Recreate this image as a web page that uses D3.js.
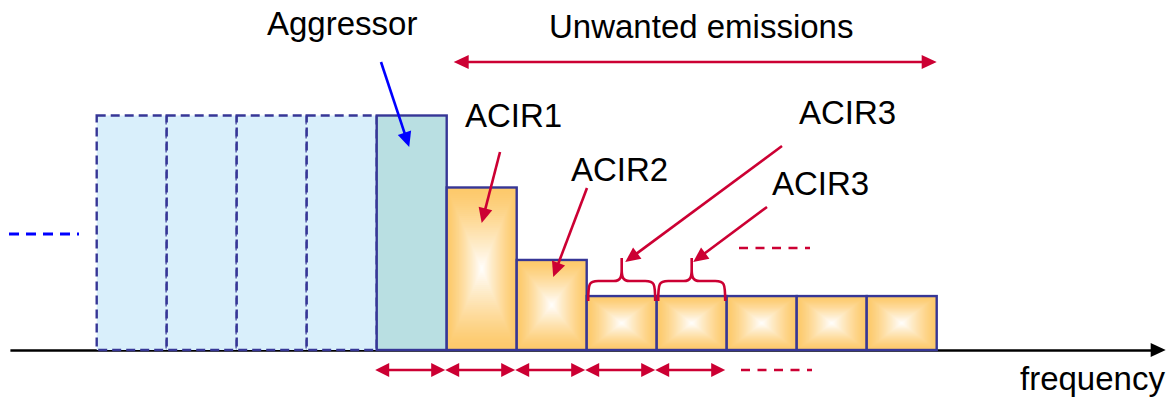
<!DOCTYPE html>
<html>
<head>
<meta charset="utf-8">
<script src="https://cdn.jsdelivr.net/npm/d3@7"></script>
<style>
  html, body { margin: 0; padding: 0; background: #fff; }
  svg { display: block; }
  text { font-family: "Liberation Sans", Arial, sans-serif; fill: #000; }
</style>
</head>
<body>
<svg id="chart" width="1168" height="398"></svg>
<script>
// ---------------- data ----------------
// channel index (0 = aggressor channel)
const channels = [-4, -3, -2, -1, 0, 1, 2, 3, 4, 5, 6, 7];
// relative power level of each channel
const levels   = [100, 100, 100, 100, 100, 69.3, 38.4, 23, 23, 23, 23, 23];
// role of each channel
const roles    = ["other", "other", "other", "other", "aggressor",
                  "unwanted", "unwanted", "unwanted", "unwanted", "unwanted", "unwanted", "unwanted"];
// channel widths marked below the axis
const markedChannels = [0, 1, 2, 3, 4];
// ACIR3 braces over these channels
const bracedChannels = [3, 4];
// labels
const axisLabel = "frequency";
const titleLabel = "Unwanted emissions";
const aggressorLabel = "Aggressor";
const acirLabels = ["ACIR1", "ACIR2", "ACIR3", "ACIR3"];

// ---------------- layout ----------------
const svg = d3.select("#chart");
const x = d3.scaleLinear().domain([-4, 9]).range([96.7, 1006.7]);
const y = d3.scaleLinear().domain([0, 100]).range([350, 115.5]);
const xAxisScale = d3.scaleLinear().domain([-5.24, 11.1]).range([x(-5.24), x(11.1)]);

const RED = "#cc0033", NAVY = "#363696", BLUE = "#0000ff";
const ORANGE = "#fdc96a";
const FS = 33;

function head(g, tip, from, len, half, color) {
  const dx = tip[0] - from[0], dy = tip[1] - from[1];
  const L = Math.hypot(dx, dy), ux = dx / L, uy = dy / L;
  const bx = tip[0] - ux * len, by = tip[1] - uy * len;
  g.append("path")
    .attr("d", `M${tip[0]},${tip[1]}L${bx - uy * half},${by + ux * half}L${bx + uy * half},${by - ux * half}Z`)
    .attr("fill", color);
}
function arrow(g, from, tip, color, w, len, half, both) {
  const dx = tip[0] - from[0], dy = tip[1] - from[1];
  const L = Math.hypot(dx, dy), ux = dx / L, uy = dy / L;
  const a = both ? [from[0] + ux * len * 0.8, from[1] + uy * len * 0.8] : from;
  const b = [tip[0] - ux * len * 0.8, tip[1] - uy * len * 0.8];
  g.append("line").attr("x1", a[0]).attr("y1", a[1]).attr("x2", b[0]).attr("y2", b[1])
    .attr("stroke", color).attr("stroke-width", w);
  head(g, tip, from, len, half, color);
  if (both) head(g, from, tip, len, half, color);
}

// ---------------- axis ----------------
const axisG = svg.append("g").attr("transform", `translate(0,${y(0)})`)
  .call(d3.axisBottom(xAxisScale).tickValues([]).tickSizeOuter(0));
axisG.select(".domain").attr("stroke", "#000").attr("stroke-width", 2.4);
head(svg, [xAxisScale.range()[1] + 12, y(0)], [0, y(0)], 15, 7, "#000");
svg.append("text").attr("x", 1020).attr("y", 390).attr("font-size", FS).text(axisLabel);

// blue dashed continuation at left
svg.append("line").attr("x1", 9).attr("x2", 79).attr("y1", 234).attr("y2", 234)
  .attr("stroke", BLUE).attr("stroke-width", 3).attr("stroke-dasharray", "10,7");

// ---------------- bars ----------------
const data = channels.map((c, i) => ({ c, v: levels[i], role: roles[i] }));
const barsG = svg.append("g");

barsG.selectAll("rect.other").data(data.filter(d => d.role === "other")).join("rect")
  .attr("class", "other")
  .attr("x", d => x(d.c)).attr("width", d => x(d.c + 1) - x(d.c))
  .attr("y", d => y(d.v)).attr("height", d => y(0) - y(d.v))
  .attr("fill", "#d9effb").attr("stroke", NAVY).attr("stroke-width", 2.4)
  .attr("stroke-dasharray", "9,5");

barsG.selectAll("rect.agg").data(data.filter(d => d.role === "aggressor")).join("rect")
  .attr("class", "agg")
  .attr("x", d => x(d.c)).attr("width", d => x(d.c + 1) - x(d.c))
  .attr("y", d => y(d.v)).attr("height", d => y(0) - y(d.v))
  .attr("fill", "#b9dfe2").attr("stroke", NAVY).attr("stroke-width", 2.4);

const N = 40;
const interp = d3.interpolateRgb(ORANGE, "#ffffff");
data.filter(d => d.role === "unwanted").forEach(d => {
  const x0 = x(d.c), w = x(d.c + 1) - x(d.c), y0 = y(d.v), h = y(0) - y(d.v);
  const g = barsG.append("g");
  g.selectAll("rect").data(d3.range(N)).join("rect")
    .attr("x", k => x0 + (k / N) * w / 2)
    .attr("y", k => y0 + (k / N) * h / 2)
    .attr("width", k => w * (1 - k / N))
    .attr("height", k => h * (1 - k / N))
    .attr("fill", k => interp(Math.pow(k / N, 1.25)));
  g.append("rect").attr("x", x0).attr("y", y0).attr("width", w).attr("height", h)
    .attr("fill", "none").attr("stroke", NAVY).attr("stroke-width", 2.4);
});

// ---------------- annotations ----------------
const ann = svg.append("g");
ann.append("text").attr("x", 267).attr("y", 35).attr("font-size", FS).text(aggressorLabel);
arrow(ann, [381, 62], [x(0.5) - 2.5, 147], BLUE, 2.6, 15, 7, false);

ann.append("text").attr("x", 549).attr("y", 38).attr("font-size", FS).text(titleLabel);
arrow(ann, [x(1) + 7, 62], [x(8), 62], RED, 2.6, 15, 7, true);

const acirPos = [[465, 127], [571, 181], [799, 124], [772, 195]];
acirLabels.forEach((t, i) => ann.append("text").attr("x", acirPos[i][0]).attr("y", acirPos[i][1])
  .attr("font-size", FS).text(t));
arrow(ann, [500, 152], [x(1.5), 223], RED, 2.6, 15, 7, false);
arrow(ann, [587, 188], [x(2.5) + 1.5, 277], RED, 2.6, 15, 7, false);
arrow(ann, [782, 146], [x(3.5) + 3.5, 262], RED, 2.6, 15, 7, false);
arrow(ann, [767, 207], [x(4.5) + 1.5, 262], RED, 2.6, 15, 7, false);

bracedChannels.forEach(c => {
  const x0 = x(c) + 1.5, x1 = x(c + 1) - 1.5, xm = (x0 + x1) / 2;
  const yb = 301, yh = 281, yt = 258;
  const p = `M${x0},${yb}C${x0},${yh + 2} ${x0 + 1},${yh} ${x0 + 10},${yh}` +
            `L${xm - 8},${yh}C${xm - 1},${yh} ${xm},${yh - 4} ${xm},${yh - 12}L${xm},${yt}` +
            `M${xm},${yh - 12}C${xm},${yh - 4} ${xm + 1},${yh} ${xm + 8},${yh}` +
            `L${x1 - 10},${yh}C${x1 - 1},${yh} ${x1},${yh + 2} ${x1},${yb}`;
  ann.append("path").attr("d", p).attr("fill", "none").attr("stroke", RED).attr("stroke-width", 2.6);
});

ann.append("line").attr("x1", 739).attr("x2", 810).attr("y1", 248).attr("y2", 248)
  .attr("stroke", RED).attr("stroke-width", 2.6).attr("stroke-dasharray", "9,7.5");

markedChannels.forEach(c => {
  arrow(ann, [x(c) - 1.5, 370], [x(c + 1) - 1.5, 370], RED, 2.6, 14, 7, true);
});
ann.append("line").attr("x1", 741).attr("x2", 812).attr("y1", 370).attr("y2", 370)
  .attr("stroke", RED).attr("stroke-width", 2.6).attr("stroke-dasharray", "9,7.5");
</script>
</body>
</html>
